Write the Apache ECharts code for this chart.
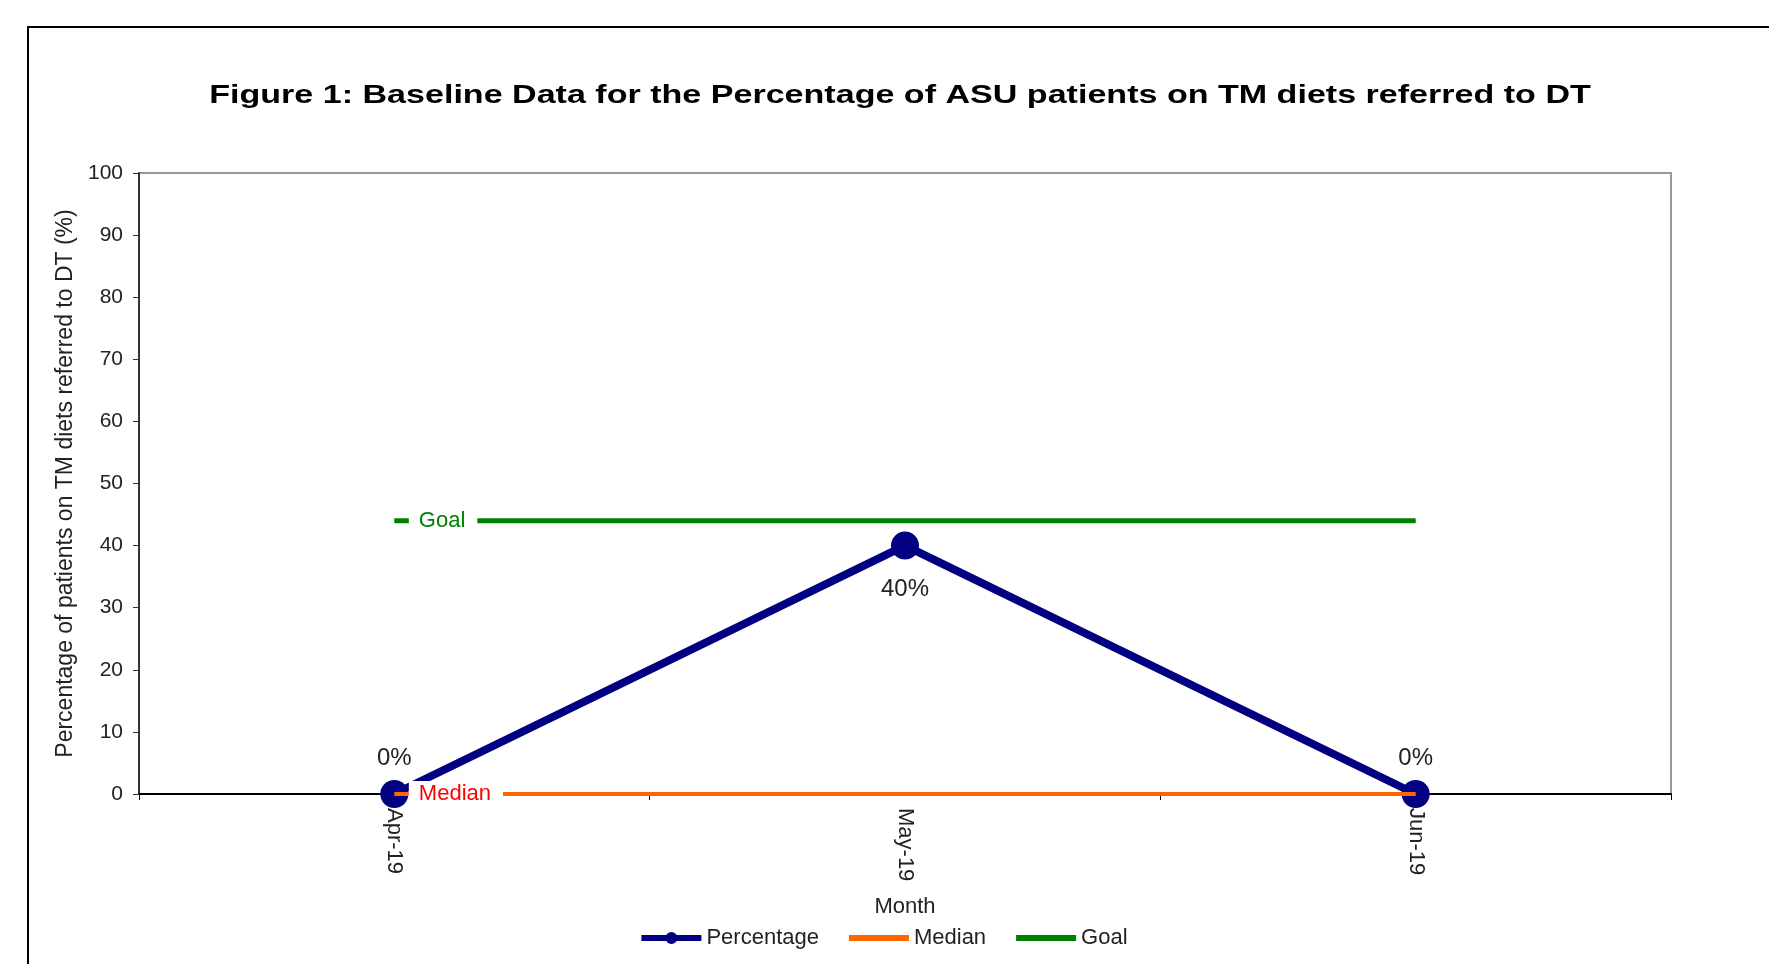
<!DOCTYPE html>
<html>
<head>
<meta charset="utf-8">
<script src="https://cdn.jsdelivr.net/npm/echarts@6/dist/echarts.min.js"></script>
<style>
  html, body { margin: 0; padding: 0; background: #fff; }
  #chart { width: 1769px; height: 964px; }
</style>
</head>
<body>
<div id="chart"></div>
<script>
// data
var months = ['Apr-19', 'May-19', 'Jun-19'];
var percentage = [0, 40, 0];
var median = [0, 0, 0];
var goal = [44, 44, 44];
var yTicks = { min: 0, max: 100, interval: 10 };

var titleText = 'Figure 1: Baseline Data for the Percentage of ASU patients on TM diets referred to DT';
var font = 'Liberation Sans, Arial, sans-serif';
var chart = echarts.init(document.getElementById('chart'));

// first point of a reference line carries the inline name label
function refLine(values, name, labelColor) {
	return values.map(function(v, i) {
		if (i != 0) return v;
		return {
			value: v,
			label: {
				show: true,
				position: 'right',
				distance: 14,
				formatter: name,
				color: labelColor,
				fontSize: 22,
				fontFamily: font,
				backgroundColor: '#fff',
				padding: [2, 12, 2, 10]
			}
		};
	});
}

var pctData = percentage.map(function(v, i) {
	return {
		value: v,
		label: {
			position: v >= 20 ? 'bottom' : 'top',
			distance: v >= 20 ? 18 : 10
		}
	};
});

var barIcon = 'path://M0,0H60V6H0Z';
var dotIcon = 'path://M0,4H60V10H0Z M24,7A6,6,0,1,1,36,7A6,6,0,1,1,24,7Z';

var option = {
	backgroundColor: '#fff',
	animation: false,
	graphic: [{
		type: 'rect',
		shape: { x: 28, y: 27, width: 1800, height: 1000 },
		style: { fill: null, stroke: '#000', lineWidth: 2 },
		silent: true
	}, {
		// excel spreads the title out, so stretch it a bit
		type: 'text',
		x: 900,
		y: 96,
		scaleX: 1.31,
		silent: true,
		style: {
			text: titleText,
			font: 'bold 26px ' + font,
			fill: '#000',
			textAlign: 'center',
			textVerticalAlign: 'middle'
		}
	}],
	legend: {
		bottom: 10,
		left: 'center',
		data: [
			{ name: 'Percentage', icon: dotIcon },
			{ name: 'Median', icon: barIcon },
			{ name: 'Goal', icon: barIcon }
		],
		itemWidth: 60,
		itemHeight: 14,
		itemGap: 30,
		textStyle: { fontFamily: font, fontSize: 22, color: '#222' }
	},
	grid: {
		left: 139, right: 98, top: 173, bottom: 170,
		show: true, borderColor: '#999', borderWidth: 2
	},
	xAxis: {
		type: 'category',
		data: months,
		name: 'Month',
		nameLocation: 'middle',
		nameGap: 102,
		nameTextStyle: { fontFamily: font, fontSize: 22, color: '#222' },
		axisLine: { lineStyle: { color: '#000', width: 2 } },
		axisTick: { show: true, length: 6, lineStyle: { color: '#000' } },
		axisLabel: { rotate: -90, margin: 14, fontFamily: font, fontSize: 22, color: '#222' },
		splitLine: { show: false }
	},
	yAxis: {
		type: 'value',
		min: yTicks.min, max: yTicks.max, interval: yTicks.interval,
		name: 'Percentage of patients on TM diets referred to DT (%)',
		nameLocation: 'middle',
		nameGap: 62,
		nameTextStyle: { fontFamily: font, fontSize: 23, color: '#222' },
		axisLine: { show: true, lineStyle: { color: '#333', width: 2 } },
		axisTick: { show: true, length: 6, lineStyle: { color: '#333' } },
		axisLabel: { margin: 16, fontFamily: font, fontSize: 21, color: '#222' },
		splitLine: { show: false }
	},
	series: [
		{
			name: 'Percentage',
			type: 'line',
			z: 2,
			data: pctData,
			symbol: 'circle',
			symbolSize: 28,
			lineStyle: { color: '#000080', width: 8 },
			itemStyle: { color: '#000080' },
			label: {
				show: true,
				formatter: '{c}%',
				fontFamily: font,
				fontSize: 24,
				color: '#222'
			}
		},
		{
			name: 'Median',
			type: 'line',
			z: 3,
			data: refLine(median, 'Median', '#ff0000'),
			symbol: 'circle',
			symbolSize: 1,
			lineStyle: { color: '#ff6600', width: 4 },
			itemStyle: { color: '#ff6600' }
		},
		{
			name: 'Goal',
			type: 'line',
			z: 3,
			data: refLine(goal, 'Goal', '#008000'),
			symbol: 'circle',
			symbolSize: 1,
			lineStyle: { color: '#008000', width: 5 },
			itemStyle: { color: '#008000' }
		}
	]
};

chart.setOption(option);
</script>
</body>
</html>
